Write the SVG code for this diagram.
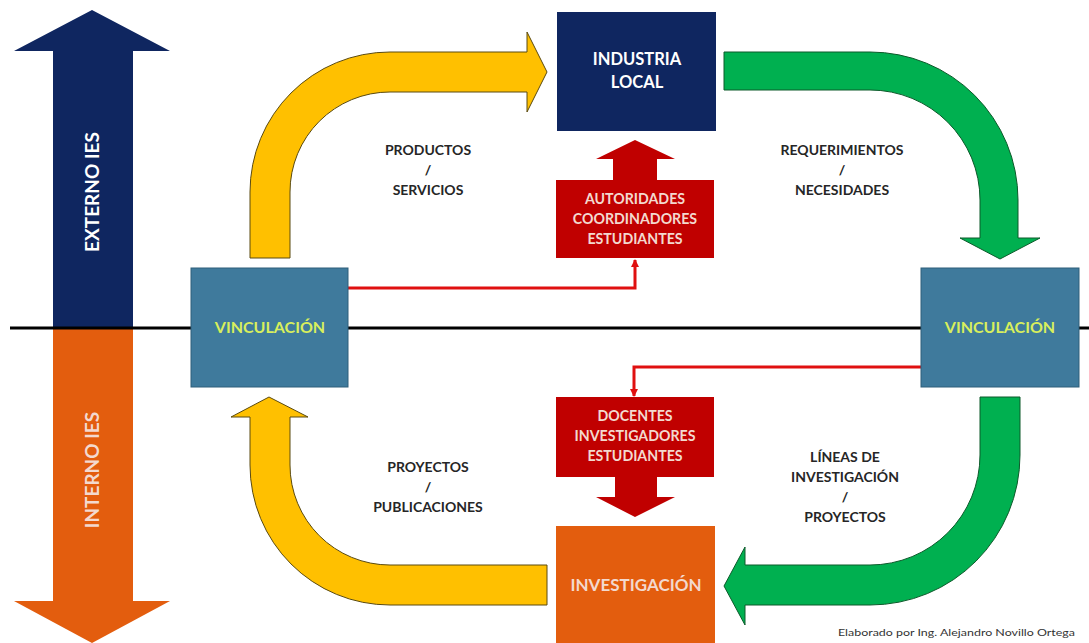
<svg xmlns="http://www.w3.org/2000/svg" width="1089" height="643" viewBox="0 0 1089 643">
<defs>
<style>
.lbl{font-family:Lato,"Liberation Sans",sans-serif;font-weight:bold;font-size:14px;fill:#262626;text-anchor:middle}
.wt{font-family:Lato,"Liberation Sans",sans-serif;font-weight:bold;font-size:16.5px;fill:#ffffff;text-anchor:middle}
.rt{font-family:Lato,"Liberation Sans",sans-serif;font-weight:bold;font-size:14.2px;fill:#f3d9cf;text-anchor:middle}
.vin{font-family:Lato,"Liberation Sans",sans-serif;font-weight:bold;font-size:16px;fill:#d8ef5c;text-anchor:middle}
.yel{fill:#ffc000;stroke:#5a4a10;stroke-width:1}
.grn{fill:#00b050;stroke:#0c5a2a;stroke-width:1}
.red{fill:#c00000}
.rline{fill:none;stroke:#e01010;stroke-width:3}
</style>
<marker id="rh" markerWidth="8" markerHeight="8" refX="7" refY="4" orient="auto" markerUnits="userSpaceOnUse" viewBox="0 0 8 8">
<path d="M0 0 L8 4 L0 8 Z" fill="#e01010"/>
</marker>
</defs>
<rect width="1089" height="643" fill="#ffffff"/>

<g id="axis">
<path d="M92 10 L170 51 L133 51 L133 328 L53 328 L53 51 L14 51 Z" fill="#0f2660"/>
<path d="M53 328 L133 328 L133 601 L170 601 L92 643 L14 601 L53 601 Z" fill="#e35d0e"/>
<text class="wt" style="font-size:19px" transform="translate(99 192) rotate(-90)">EXTERNO IES</text>
<text class="rt" style="font-size:19px" transform="translate(99 470) rotate(-90)">INTERNO IES</text>
</g>

<g id="connectors">
<path class="yel" d="M250 258 L250 192 A140 140 0 0 1 390 52 L527 52 L527 32 L547 72 L527 112 L527 92 L390 92 A100 100 0 0 0 290 192 L290 258 Z"/>
<path class="grn" d="M724 52 L870 52 A148 148 0 0 1 1018 200 L1018 238 L1040 238 L1000 259 L960 238 L980 238 L980 200 A110 110 0 0 0 870 90 L724 90 Z"/>
<path class="grn" d="M980 397 L1020 397 L1020 455 A150 150 0 0 1 870 605 L745 605 L745 625 L724 586 L745 547 L745 565 L870 565 A110 110 0 0 0 980 455 Z"/>
<path class="yel" d="M547 565 L390 565 A100 100 0 0 1 290 465 L290 417 L308 417 L269 397 L231 417 L250 417 L250 465 A140 140 0 0 0 390 605 L547 605 Z"/>
<path class="red" d="M613 180 L613 159 L596 159 L635 140 L675 159 L657 159 L657 180 Z"/>
<path class="red" d="M615 477 L615 497 L596 497 L635 517 L675 497 L657 497 L657 477 Z"/>
<path class="rline" d="M348 288 L635 288 L635 260" marker-end="url(#rh)"/>
<path class="rline" d="M921 367 L634 367 L634 396" marker-end="url(#rh)"/>
<line x1="10" y1="328" x2="1089" y2="328" stroke="#000" stroke-width="3"/>
</g>

<g id="vinculacion-left">
<rect x="191" y="268" width="157" height="119" fill="#3f7a9c" stroke="#2f5f7a" stroke-width="1"/>
<text class="vin" x="270" y="333">VINCULACIÓN</text>
</g>
<g id="vinculacion-right">
<rect x="921" y="268" width="158" height="119" fill="#3f7a9c" stroke="#2f5f7a" stroke-width="1"/>
<text class="vin" x="1000" y="333">VINCULACIÓN</text>
</g>
<g id="industria">
<rect x="557" y="12" width="159" height="119" fill="#0f2660"/>
<text class="wt" x="637" y="65">INDUSTRIA</text>
<text class="wt" x="637" y="88">LOCAL</text>
</g>
<g id="autoridades">
<rect x="556" y="180" width="158" height="78" fill="#c00000"/>
<text class="rt" x="635" y="204">AUTORIDADES</text>
<text class="rt" x="635" y="224">COORDINADORES</text>
<text class="rt" x="635" y="244">ESTUDIANTES</text>
</g>
<g id="docentes">
<rect x="556" y="397" width="158" height="80" fill="#c00000"/>
<text class="rt" x="635" y="421">DOCENTES</text>
<text class="rt" x="635" y="441">INVESTIGADORES</text>
<text class="rt" x="635" y="461">ESTUDIANTES</text>
</g>
<g id="investigacion">
<rect x="556" y="526" width="159" height="117" fill="#e35d0e"/>
<text class="rt" x="636" y="591" style="font-size:17px">INVESTIGACIÓN</text>
</g>

<g id="labels">
<text class="lbl" x="428" y="155">PRODUCTOS</text>
<text class="lbl" x="428" y="175">/</text>
<text class="lbl" x="428" y="195">SERVICIOS</text>
<text class="lbl" x="842" y="155">REQUERIMIENTOS</text>
<text class="lbl" x="842" y="175">/</text>
<text class="lbl" x="842" y="195">NECESIDADES</text>
<text class="lbl" x="428" y="472">PROYECTOS</text>
<text class="lbl" x="428" y="492">/</text>
<text class="lbl" x="428" y="512">PUBLICACIONES</text>
<text class="lbl" x="845" y="462">LÍNEAS DE</text>
<text class="lbl" x="845" y="482">INVESTIGACIÓN</text>
<text class="lbl" x="845" y="502">/</text>
<text class="lbl" x="845" y="522">PROYECTOS</text>
<text x="1075" y="636" text-anchor="end" textLength="237" lengthAdjust="spacingAndGlyphs" style="font-family:Lato,'Liberation Sans',sans-serif;font-size:8.5px;fill:#333">Elaborado por Ing. Alejandro Novillo Ortega</text>
</g>
</svg>
